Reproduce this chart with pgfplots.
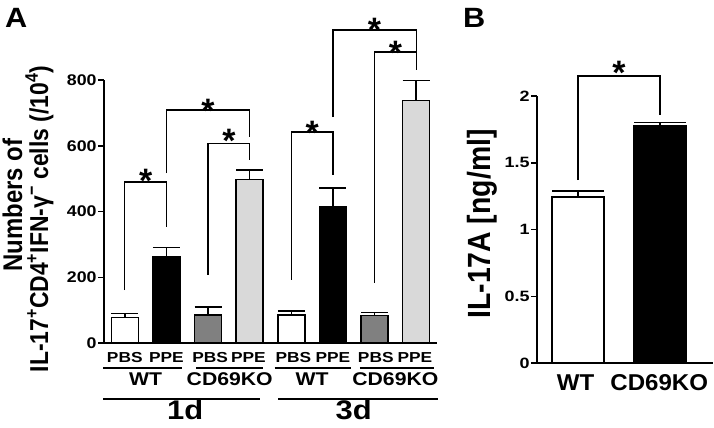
\documentclass[border=0pt]{standalone}
\usepackage{pgfplots}
\pgfplotsset{compat=1.18}
\usepackage{pgfplotstable}
\usepackage{fontspec}
\setmainfont{Liberation Sans}
\newcommand\fs[1]{\fontsize{#1}{#1}\selectfont\bfseries}
\definecolor{midgray}{RGB}{128,128,128}
\definecolor{ltgray}{RGB}{217,217,217}

% Panel A: x = position, y = mean, e = upper error
\pgfplotstableread{
x y e
0 78 12
4 85 13
}\Awhite
\pgfplotstableread{
x y e
1 261 29
5 415 57
}\Ablack
\pgfplotstableread{
x y e
2 85 24
6 84 9
}\Agray
\pgfplotstableread{
x y e
3 498 28
7 738 60
}\Alight
% Panel B
\pgfplotstableread{
x y e
0 1.245 0.045
}\Bwt
\pgfplotstableread{
x y e
1 1.78 0.02
}\Bko

\begin{document}
\begin{tikzpicture}[x=1bp,y=1bp]
\useasboundingbox (0,0) rectangle (714,-427);

\begin{axis}[
  at={(104bp,-343bp)}, anchor=south west,
  scale only axis, width=333bp, height=263bp,
  xmin=-0.5, xmax=7.5, ymin=0, ymax=800,
  axis lines=left, axis line style={-, line width=1.5bp},
  xtick=\empty, ytick={0,200,400,600,800},
  tick align=outside, major tick length=6bp,
  every tick/.style={line width=1.5bp, black},
  yticklabel style={font=\fs{15.5}, xscale=1.15, inner sep=1bp},
  /pgf/number format/assume math mode=true,
  clip=false,
]
\addplot[ybar, bar width=27bp, bar shift=0pt, draw=black, fill=white, line width=1.5bp,
  error bars/.cd, y dir=plus, y explicit, error bar style={line width=1.5bp, black},
  error mark options={rotate=90, line width=1.5bp, mark size=13.5bp, black}]
  table[x=x, y=y, y error=e] {\Awhite};
\addplot[ybar, bar width=27bp, bar shift=0pt, draw=black, fill=black, line width=1.5bp,
  error bars/.cd, y dir=plus, y explicit, error bar style={line width=1.5bp, black},
  error mark options={rotate=90, line width=1.5bp, mark size=13.5bp, black}]
  table[x=x, y=y, y error=e] {\Ablack};
\addplot[ybar, bar width=27bp, bar shift=0pt, draw=black, fill=midgray, line width=1.5bp,
  error bars/.cd, y dir=plus, y explicit, error bar style={line width=1.5bp, black},
  error mark options={rotate=90, line width=1.5bp, mark size=13.5bp, black}]
  table[x=x, y=y, y error=e] {\Agray};
\addplot[ybar, bar width=27bp, bar shift=0pt, draw=black, fill=ltgray, line width=1.5bp,
  error bars/.cd, y dir=plus, y explicit, error bar style={line width=1.5bp, black},
  error mark options={rotate=90, line width=1.5bp, mark size=13.5bp, black}]
  table[x=x, y=y, y error=e] {\Alight};

% significance brackets
\draw[line width=1.2bp] (0,161) -- (0,490) -- (1,490) -- (1,353);
\draw[line width=1.2bp] (1,517) -- (1,709) -- (3,709) -- (3,627);
\draw[line width=1.2bp] (2,207) -- (2,608) -- (3,608) -- (3,557);
\draw[line width=1.2bp] (4,192) -- (4,642) -- (5,642) -- (5,511);
\draw[line width=1.2bp] (5,687) -- (5,952) -- (7,952) -- (7,830);
\draw[line width=1.2bp] (6,183) -- (6,885) -- (7,885) -- (7,830);
\node[font=\fs{34}, anchor=base, yshift=-19.7bp] at (0.5,517) {*};
\node[font=\fs{34}, anchor=base, yshift=-19.7bp] at (2,730) {*};
\node[font=\fs{34}, anchor=base, yshift=-19.7bp] at (2.5,639) {*};
\node[font=\fs{34}, anchor=base, yshift=-19.7bp] at (4.5,663) {*};
\node[font=\fs{34}, anchor=base, yshift=-19.7bp] at (6,976) {*};
\node[font=\fs{34}, anchor=base, yshift=-19.7bp] at (6.5,906) {*};

% category labels
\node[anchor=base, font=\fs{14.5}, xscale=1.2] at (0,-58) {PBS};
\node[anchor=base, font=\fs{14.5}, xscale=1.2] at (1,-58) {PPE};
\node[anchor=base, font=\fs{14.5}, xscale=1.2] at (2.05,-58) {PBS};
\node[anchor=base, font=\fs{14.5}, xscale=1.2] at (2.97,-58) {PPE};
\node[anchor=base, font=\fs{14.5}, xscale=1.2] at (4.05,-58) {PBS};
\node[anchor=base, font=\fs{14.5}, xscale=1.2] at (5,-58) {PPE};
\node[anchor=base, font=\fs{14.5}, xscale=1.2] at (6.03,-58) {PBS};
\node[anchor=base, font=\fs{14.5}, xscale=1.2] at (6.97,-58) {PPE};
\draw[line width=1.2bp] (-0.52,-76) -- (1.38,-76);
\draw[line width=1.2bp] (1.72,-76) -- (3.33,-76);
\draw[line width=1.2bp] (3.6,-76) -- (5.43,-76);
\draw[line width=1.2bp] (5.65,-76) -- (7.42,-76);
\node[anchor=base, font=\fs{18.5}, xscale=1.15] at (0.5,-128) {WT};
\node[anchor=base, font=\fs{18.5}, xscale=1.15] at (2.52,-128) {CD69KO};
\node[anchor=base, font=\fs{18.5}, xscale=1.15] at (4.5,-128) {WT};
\node[anchor=base, font=\fs{18.5}, xscale=1.15] at (6.5,-128) {CD69KO};
\draw[line width=1.2bp] (-0.52,-170) -- (3.25,-170);
\draw[line width=1.2bp] (3.69,-170) -- (7.52,-170);
\node[anchor=base, font=\fs{27}, xscale=1.15, inner sep=0pt] at (1.45,-234) {1d};
\node[anchor=base, font=\fs{27}, xscale=1.15, inner sep=0pt] at (5.5,-234) {3d};
\end{axis}

\begin{axis}[
  at={(537bp,-363bp)}, anchor=south west,
  scale only axis, width=176bp, height=267bp,
  xmin=-0.5, xmax=1.646, ymin=0, ymax=2,
  axis lines=left, axis line style={-, line width=1.5bp},
  xtick=\empty, ytick={0,0.5,1,1.5,2},
  tick align=outside, major tick length=6bp,
  every tick/.style={line width=1.5bp, black},
  yticklabel style={font=\fs{15}, xscale=1.2, inner sep=1bp},
  /pgf/number format/assume math mode=true,
  clip=false,
]
\addplot[ybar, bar width=52bp, bar shift=0pt, draw=black, fill=white, line width=1.5bp,
  error bars/.cd, y dir=plus, y explicit, error bar style={line width=1.5bp, black},
  error mark options={rotate=90, line width=1.5bp, mark size=26bp, black}]
  table[x=x, y=y, y error=e] {\Bwt};
\addplot[ybar, bar width=52bp, bar shift=0pt, draw=black, fill=black, line width=1.5bp,
  error bars/.cd, y dir=plus, y explicit, error bar style={line width=1.5bp, black},
  error mark options={rotate=90, line width=1.5bp, mark size=26bp, black}]
  table[x=x, y=y, y error=e] {\Bko};
\draw[line width=1.2bp] (0,1.37) -- (0,2.15) -- (1,2.15) -- (1,1.86);
\node[font=\fs{34}, anchor=base, yshift=-19.7bp] at (0.5,2.233) {*};
\node[anchor=base, font=\fs{23}, xscale=1.05] at (-0.03,-0.205) {WT};
\node[anchor=base, font=\fs{23}, xscale=1.05] at (0.99,-0.205) {CD69KO};
\end{axis}

% axis titles and panel letters
\node[rotate=90, yscale=1.13, anchor=base, font=\fs{24}] at (22,-205) {Numbers of};
\node[rotate=90, yscale=1.13, anchor=base, font=\fs{23}] at (48,-219)
  {IL-17\textsuperscript{+}CD4\textsuperscript{+}IFN-γ\textsuperscript{−} cells (/10\textsuperscript{4})};
\node[rotate=90, yscale=1.13, anchor=base, font=\fs{28.5}] at (490,-224) {IL-17A [ng/ml]};
\node[anchor=base west, font=\fs{28}, xscale=1.1, inner sep=0pt] at (5,-27) {A};
\node[anchor=base west, font=\fs{28}, xscale=1.1, inner sep=0pt] at (463,-27) {B};
\end{tikzpicture}
\end{document}
